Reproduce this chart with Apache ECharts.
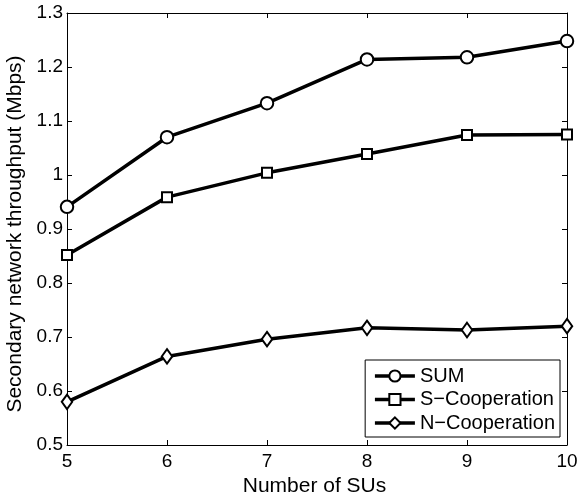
<!DOCTYPE html>
<html><head><meta charset="utf-8">
<script src="https://cdn.jsdelivr.net/npm/echarts@6/dist/echarts.min.js"></script>
<style>html,body{margin:0;padding:0;background:#fff}#c{width:579px;height:498px}</style>
</head><body><div id="c"></div>
<script>
const xValues = [5, 6, 7, 8, 9, 10];
const sumValues = [0.941, 1.070, 1.133, 1.214, 1.218, 1.248];
const sCoopValues = [0.852, 0.959, 1.004, 1.039, 1.074, 1.075];
const nCoopValues = [0.580, 0.664, 0.696, 0.717, 0.713, 0.720];
const seriesNames = ['SUM', 'S\u2212Cooperation', 'N\u2212Cooperation'];
const xAxisTitle = 'Number of SUs';
const yAxisTitle = 'Secondary network throughput (Mbps)';

const font = 'Liberation Sans, Arial, Helvetica, sans-serif';
const pair = v => xValues.map((x, i) => [x, v[i]]);
const chart = echarts.init(document.getElementById('c'), null, {renderer: 'canvas'});
const mk = (name, data, symbol, size, bw) => ({
  name, type: 'line', data: pair(data), symbol, symbolSize: size,
  lineStyle: {color: '#000', width: 3.5}, itemStyle: {color: '#000', borderColor: '#000', borderWidth: bw},
  emphasis: {disabled: true}, animation: false, z: 3
});
const axisCommon = {
  axisLine: {show: true, lineStyle: {color: '#000', width: 1}},
  axisTick: {show: true, inside: true, length: 5, lineStyle: {color: '#000'}},
  splitLine: {show: false}
};
chart.setOption({
  animation: false,
  backgroundColor: '#fff',
  grid: {left: 67, right: 12, top: 13, bottom: 53, containLabel: false, outerBoundsMode: 'none'},
  xAxis: [
    Object.assign({type: 'value', min: 5, max: 10, interval: 1, position: 'bottom',
      name: xAxisTitle, nameLocation: 'middle', nameGap: 25,
      nameTextStyle: {fontFamily: font, fontSize: 21, color: '#000', padding: [0, 5, 0, 0]},
      axisLabel: {fontFamily: font, fontSize: 19, color: '#000', margin: 7}}, axisCommon),
    Object.assign({type: 'value', min: 5, max: 10, interval: 1, position: 'top', axisLabel: {show: false}}, axisCommon)
  ],
  yAxis: [
    Object.assign({type: 'value', min: 0.5, max: 1.3, interval: 0.1, position: 'left',
      name: yAxisTitle, nameLocation: 'middle', nameGap: 41,
      nameTextStyle: {fontFamily: font, fontSize: 21, color: '#000', padding: [0, 10, 0, 0]},
      axisLabel: {fontFamily: font, fontSize: 19, color: '#000', margin: 4,
        formatter: v => String(Math.round(v * 10) / 10)}}, axisCommon),
    Object.assign({type: 'value', min: 0.5, max: 1.3, interval: 0.1, position: 'right', axisLabel: {show: false}}, axisCommon)
  ],
  legend: {
    orient: 'vertical', right: 19, top: 360,
    backgroundColor: '#fff', borderColor: '#000', borderWidth: 1,
    padding: [6, 5, 4, 8], itemGap: 3.5, itemWidth: 40, itemHeight: 14,
    textStyle: {fontFamily: font, fontSize: 20, lineHeight: 20, color: '#000'},
    lineStyle: {width: 3.5, color: '#000'},
    itemStyle: {borderWidth: 3, borderColor: '#000'},
    data: seriesNames
  },
  series: [
    mk(seriesNames[0], sumValues, 'emptyCircle', 12.5, 3),
    mk(seriesNames[1], sCoopValues, 'emptyRect', 10, 3.5),
    mk(seriesNames[2], nCoopValues, 'emptyDiamond', [10.5, 14.5], 3)
  ]
});
</script></body></html>
